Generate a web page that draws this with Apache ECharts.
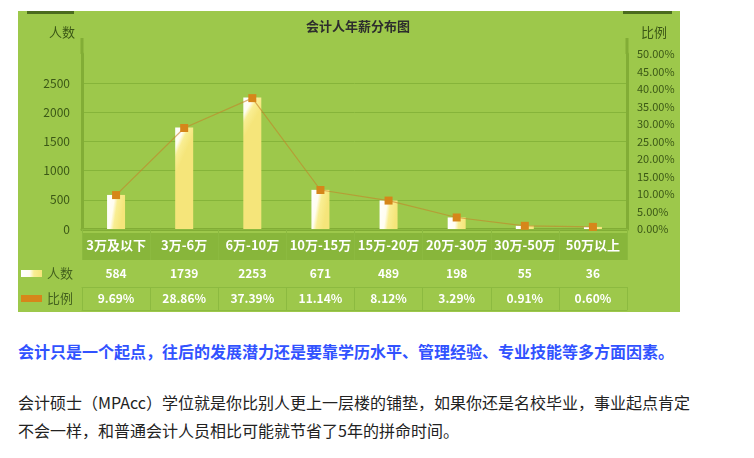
<!DOCTYPE html>
<html>
<head>
<meta charset="utf-8">
<script src="https://cdn.jsdelivr.net/npm/echarts@6/dist/echarts.min.js"></script>
<style>
    body { margin: 0; width: 754px; height: 458px; background: #fff; position: relative; overflow: hidden;
        font-family: "Noto Sans CJK SC", sans-serif; }
    #chart { position: absolute; left: 18px; top: 11px; width: 662px; height: 301px; background: #9dc84b; }
    .lead { position: absolute; left: 18px; top: 341px; font-size: 16px; line-height: 20px; font-weight: bold;
        color: #3152ff; white-space: nowrap; }
    .para { position: absolute; left: 18px; top: 388px; font-size: 16px; line-height: 28px; color: #222;
        white-space: nowrap; }
</style>
</head>
<body>
<div id="chart"></div>
<div class="lead">会计只是一个起点，往后的发展潜力还是要靠学历水平、管理经验、专业技能等多方面因素。</div>
<div class="para">会计硕士（MPAcc）学位就是你比别人更上一层楼的铺垫，如果你还是名校毕业，事业起点肯定<br>不会一样，和普通会计人员相比可能就节省了5年的拼命时间。</div>
<script>
// 年薪区间
const categories = ['3万及以下', '3万-6万', '6万-10万', '10万-15万', '15万-20万', '20万-30万', '30万-50万', '50万以上'];
// 人数
const counts = [584, 1739, 2253, 671, 489, 198, 55, 36];
// 比例 (%)
const ratios = [9.69, 28.86, 37.39, 11.14, 8.12, 3.29, 0.91, 0.60];

const labelColor = '#3b5716';
const axisColor = '#82ad36';
const cellLine = '#8cba40';

let chart = echarts.init(document.getElementById('chart'));

/** 表格下方的行 */
function tableRow(data, offset, margin, tickLen) {
    return {
        type: 'category',
        position: 'bottom',
        offset: offset,
        data: data,
        axisLine: {show: true, lineStyle: {color: cellLine, width: 1}},
        axisTick: {show: true, length: tickLen, lineStyle: {color: cellLine}},
        axisLabel: {color: '#fff', fontWeight: 'bold', fontSize: 12, margin: margin, interval: 0}
    };
}

chart.setOption({
    textStyle: {fontFamily: '"Noto Sans CJK SC", sans-serif'},
    title: {
        text: '会计人年薪分布图',
        left: 283, top: 4,
        textStyle: {fontSize: 13, fontWeight: 'bold', color: '#2d2d2d'}
    },
    legend: {
        orient: 'vertical',
        left: 3, top: 256, padding: 0,
        itemWidth: 21, itemHeight: 7, itemGap: 12,
        textStyle: {fontSize: 13, color: '#44621e'},
        data: [{name: '人数', icon: 'rect'}, {name: '比例', icon: 'rect'}]
    },
    grid: {left: 64, right: 53, top: 43, bottom: 83},
    xAxis: [
        {
            type: 'category',
            data: categories,
            axisLine: {lineStyle: {color: axisColor, width: 3}},
            axisTick: {show: true, length: 31, lineStyle: {color: cellLine}},
            axisLabel: {color: '#fff', fontWeight: 'bold', fontSize: 13, margin: 10, interval: 0}
        },
        tableRow(counts.map(String), 31, 7, 27),
        tableRow(ratios.map(v => v.toFixed(2) + '%'), 58, 5, 23),
        {
            type: 'category', position: 'bottom', offset: 81, data: categories,
            axisLine: {lineStyle: {color: cellLine}}, axisTick: {show: false}, axisLabel: {show: false}
        }
    ],
    yAxis: [
        {
            type: 'value', min: 0, max: 3000, interval: 500,
            name: '人数', nameGap: 15,
            nameTextStyle: {color: labelColor, fontSize: 13, align: 'right', padding: [0, 7, 0, 0]},
            axisLine: {show: true, lineStyle: {color: axisColor, width: 3}},
            axisLabel: {color: labelColor, fontSize: 12, margin: 12, showMaxLabel: false, formatter: v => String(v)},
            splitLine: {lineStyle: {color: '#86b43a'}, showMaxLine: false}
        },
        {
            type: 'value', min: 0, max: 50, interval: 5,
            name: '比例', nameGap: 15,
            nameTextStyle: {color: labelColor, fontSize: 13, align: 'left', padding: [0, 0, 0, 14]},
            axisLine: {show: true, lineStyle: {color: axisColor, width: 3}},
            axisLabel: {color: labelColor, fontSize: 11, margin: 10, formatter: v => v.toFixed(2) + '%'},
            splitLine: {show: false}
        }
    ],
    graphic: [
        {type: 'rect', z: -10, shape: {x: 64, y: 222, width: 545, height: 27}, style: {fill: '#88b63b'}},
        {type: 'line', z: -5, shape: {x1: 64, y1: 27, x2: 64, y2: 43}, style: {stroke: axisColor, lineWidth: 3}},
        {type: 'line', z: -5, shape: {x1: 609, y1: 27, x2: 609, y2: 43}, style: {stroke: axisColor, lineWidth: 3}},
        {type: 'rect', shape: {x: 9, y: 0, width: 47, height: 3}, style: {fill: '#4a6b1e'}},
        {type: 'rect', shape: {x: 605, y: 0, width: 49, height: 3}, style: {fill: '#4a6b1e'}}
    ],
    series: [
        {
            name: '人数',
            type: 'bar',
            barWidth: 18,
            data: counts,
            itemStyle: {
                color: new echarts.graphic.LinearGradient(0, 0, 1, 0.08, [
                    {offset: 0, color: '#ffffff'},
                    {offset: 0.42, color: '#fffdf0'},
                    {offset: 0.62, color: '#f9ee93'},
                    {offset: 1, color: '#f5e57a'}
                ])
            }
        },
        {
            name: '比例',
            type: 'line',
            yAxisIndex: 1,
            data: ratios,
            symbol: 'rect',
            symbolSize: 8,
            itemStyle: {color: '#d6861a'},
            lineStyle: {color: 'rgba(196,130,40,0.6)', width: 1.2}
        }
    ]
});
</script>
</body>
</html>
